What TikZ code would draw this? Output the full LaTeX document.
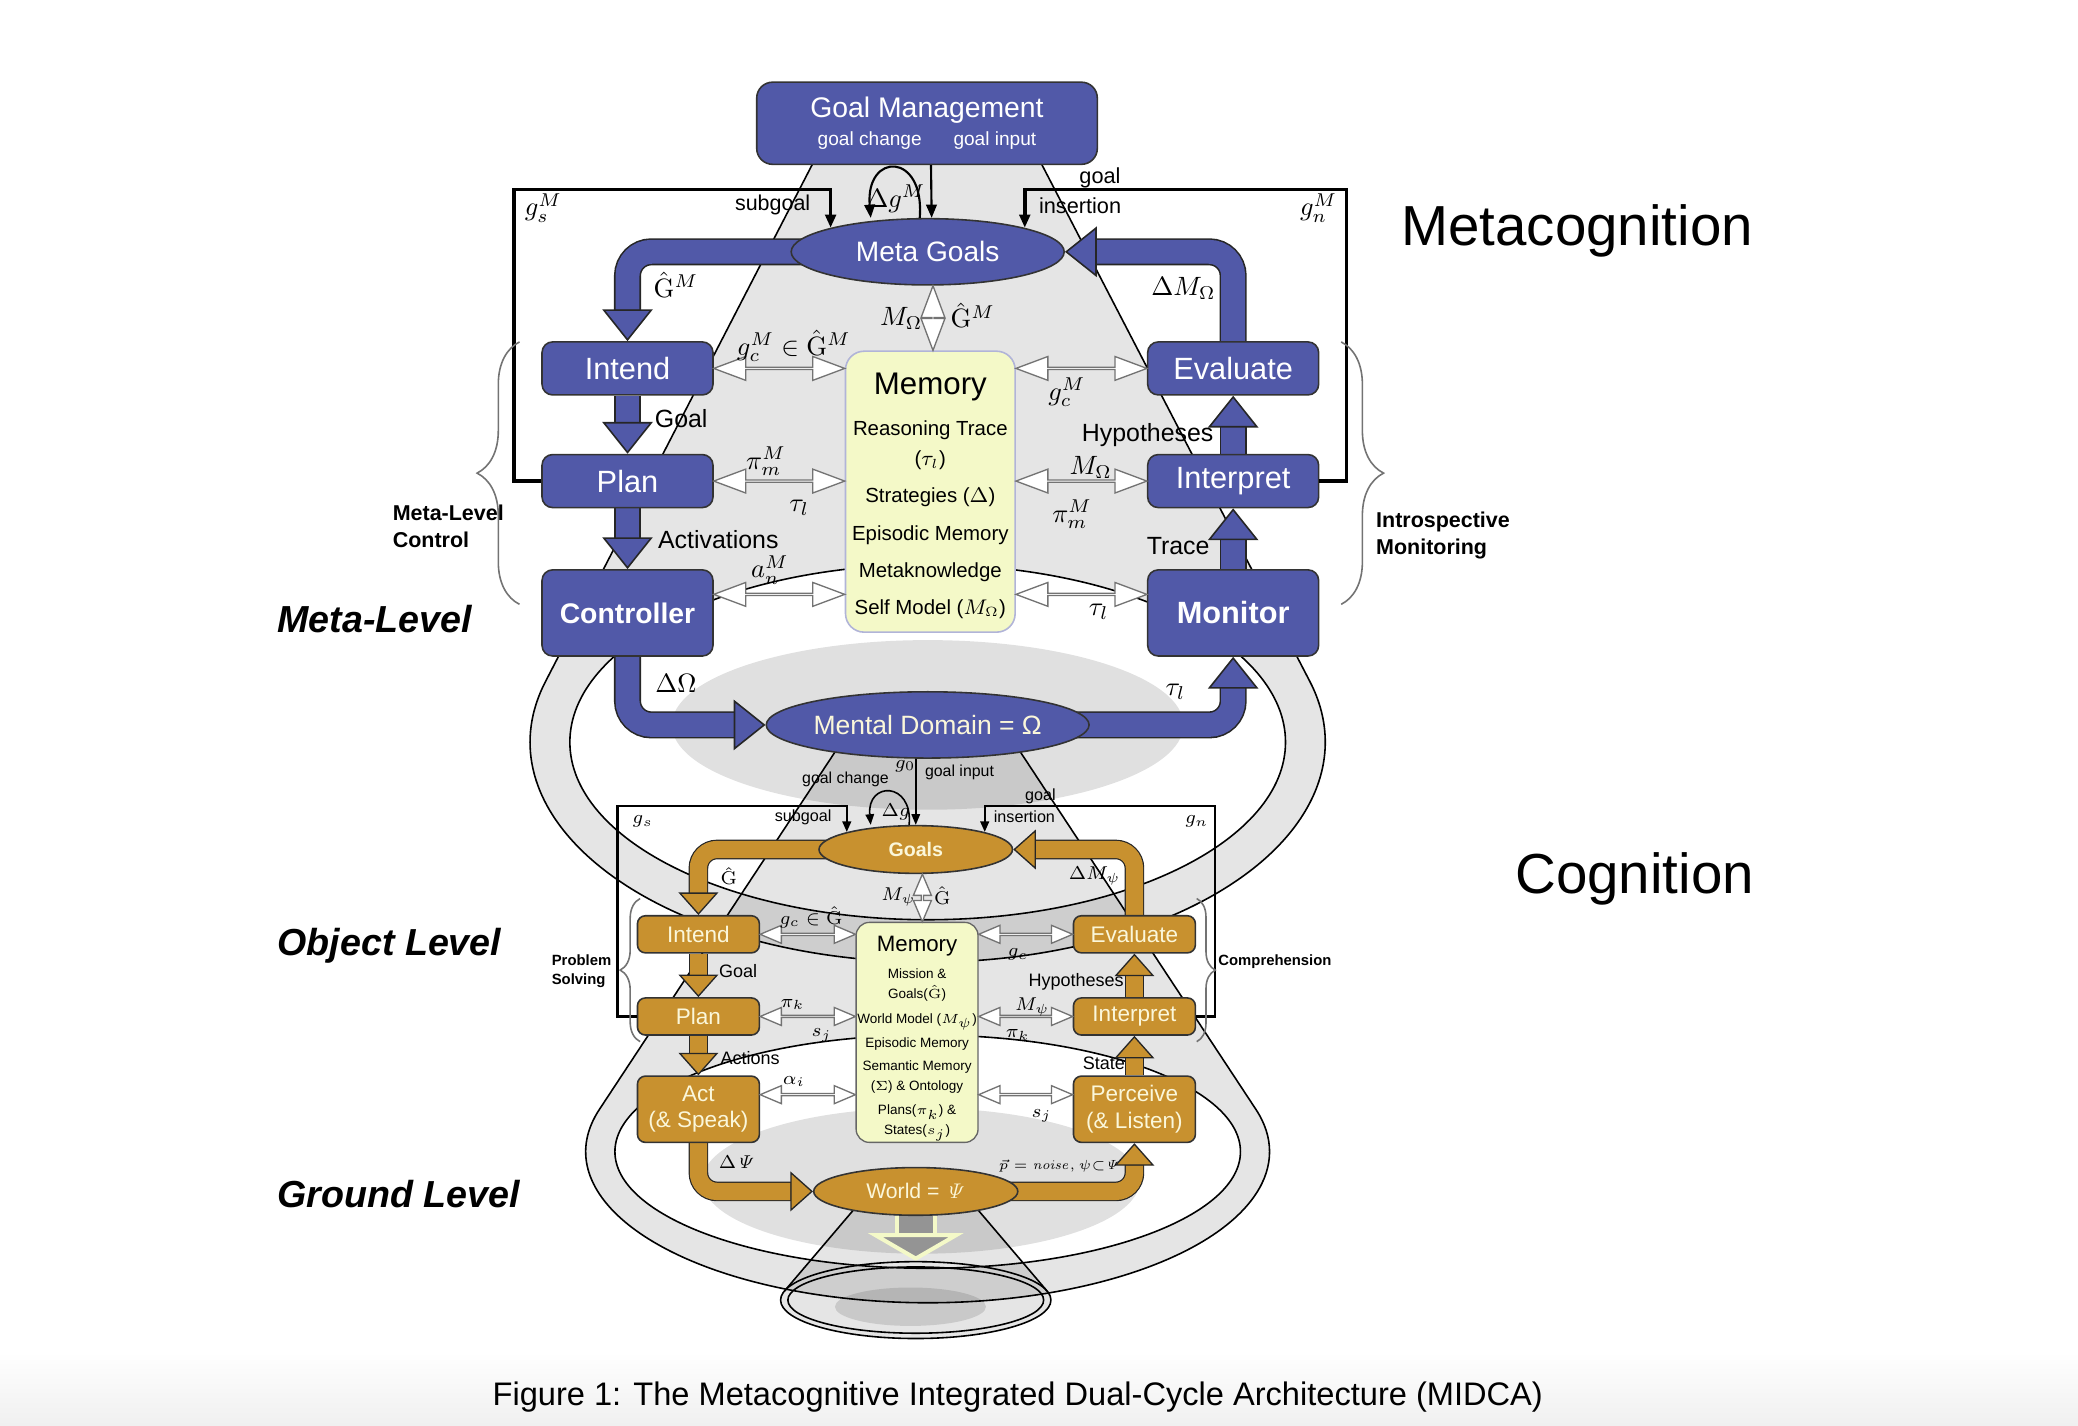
\documentclass[tikz,border=0pt]{standalone}
\usepackage[no-math]{fontspec}
\setmainfont{Liberation Sans}
\usetikzlibrary{arrows.meta,shapes.geometric,shapes.arrows,decorations.pathreplacing,calc}
\pgfdeclarelayer{bg}
\pgfdeclarelayer{flowlayer}
\pgfsetlayers{bg,flowlayer,main}
\definecolor{metablue}{HTML}{5159A8}
\definecolor{objgold}{HTML}{C8912F}
\definecolor{memfill}{HTML}{F4F9C8}
\definecolor{cream}{HTML}{FBF7DA}
\newcommand\fatarrow[2]{\draw[#1out] #2; \draw[#1in] #2;}
\newcommand\openarrow[3][]{\path let \p1=(#2), \p2=(#3), \n1={veclen(\x2-\x1,\y2-\y1)} in (#2) -- node[sloped, dblarrow, minimum height=\n1, #1] {} (#3);}
\begin{document}
\begin{tikzpicture}[x=0.5pt, y=-0.5pt,
  boxbase/.style={rectangle, rounded corners=4pt, draw=black!80, line width=0.6pt, inner sep=0pt, align=center},
  metabox/.style={boxbase, fill=metablue, text=white, minimum width=64.5pt, minimum height=20pt, font=\fontsize{11.6}{13}\selectfont},
  objbox/.style={boxbase, rounded corners=3pt, fill=objgold, text=cream, minimum width=46pt, minimum height=14pt, font=\fontsize{8.5}{10}\selectfont},
  metaell/.style={ellipse, draw=black!80, line width=0.6pt, fill=metablue, text=white, inner sep=0pt},
  objell/.style={ellipse, draw=black!80, line width=0.6pt, fill=objgold, text=cream, inner sep=0pt},
  membox/.style={rectangle, rounded corners=7pt, fill=memfill, inner sep=0pt},
  metaout/.style={line width=10.2pt, draw=black!85, rounded corners=9pt, shorten >=11pt},
  metain/.style={line width=9pt, draw=metablue, rounded corners=9pt, -{Triangle[width=19pt,length=12pt,fill=metablue,color=black!85,line width=0.6pt]}},
  objout/.style={line width=7.4pt, draw=black!85, rounded corners=7pt, shorten >=7.5pt},
  objin/.style={line width=6.5pt, draw=objgold, rounded corners=7pt, -{Triangle[width=15pt,length=8.5pt,fill=objgold,color=black!85,line width=0.5pt]}},
  groundout/.style={line width=16pt, draw=memfill, shorten >=9.5pt},
  groundin/.style={line width=13pt, draw=black!42, -{Triangle[width=36pt,length=10.5pt,fill=black!42,color=memfill,line width=1.5pt]}},
  dblarrow/.style={double arrow, draw=black!55, fill=white, line width=0.5pt, inner sep=0pt, double arrow head indent=0pt},
  metadbl/.style={minimum width=9pt, double arrow head extend=2.4pt, double arrow tip angle=41},
  objdbl/.style={minimum width=6.8pt, double arrow head extend=1.8pt, double arrow tip angle=46},
  flow/.style={draw=black, line width=0.8pt, -{Triangle[length=5pt,width=4pt]}},
  oflow/.style={draw=black, line width=0.6pt, -{Triangle[length=4pt,width=3.2pt]}},
  metaframe/.style={flow, line width=1.4pt},
  objframe/.style={oflow, line width=0.9pt},
  coneline/.style={draw=black, line width=0.6pt},
  conefill/.style={fill=black, fill opacity=0.1},
  platefill/.style={fill=black, fill opacity=0.12},
  brc/.style={draw=black!55, line width=0.6pt, decorate, decoration={brace, amplitude=#1}},
  mlbl/.style={inner sep=0pt, font=\fontsize{9.4}{11}\selectfont},
  mmath/.style={inner sep=0pt, font=\fontsize{10}{11}\selectfont},
  olbl/.style={inner sep=0pt, font=\fontsize{6.8}{8}\selectfont},
  omath/.style={inner sep=0pt, font=\fontsize{7.2}{8}\selectfont},
  side/.style={inner sep=0pt, align=left, anchor=west, font=\bfseries\fontsize{8.1}{10}\selectfont},
  level/.style={inner sep=0pt, anchor=west, font=\bfseries\itshape\fontsize{14.2}{16}\selectfont},
  big/.style={inner sep=0pt, anchor=west, font=\fontsize{21.3}{24}\selectfont}]
\useasboundingbox (0,0) rectangle (1568,1076);
\shade[top color=white, bottom color=black!6] (0,1020) rectangle (1568,1076);

% cones and rings
\begin{pgfonlayer}{bg}
\fill[conefill, even odd rule] (614,122) -- (411.5,514.5) arc[start angle=195.9, end angle=-15.9, x radius=300, y radius=166] -- (785,122) -- cycle (700,560) ellipse[x radius=270, y radius=134];
\draw[coneline] (614,122) -- (411.5,514.5) arc[start angle=195.9, end angle=-15.9, x radius=300, y radius=166] -- (785,122);
\draw[coneline] (700,560) ellipse[x radius=270, y radius=134];
\fill[platefill] (700,547) ellipse[x radius=193, y radius=64];
\fill[conefill, even odd rule] (631,566) -- (452.3,837.1) arc[start angle=196.25, end angle=-16.25, x radius=258, y radius=114] -- (769,566) -- cycle (700,869) ellipse[x radius=236, y radius=88];
\draw[coneline] (631,566) -- (452.3,837.1) arc[start angle=196.25, end angle=-16.25, x radius=258, y radius=114] -- (769,566);
\draw[coneline] (700,869) ellipse[x radius=236, y radius=88];
\fill[platefill] (695,891) ellipse[x radius=165, y radius=55];
\fill[conefill] (644,913) -- (591.9,974.2) arc[start angle=193.62, end angle=-13.62, x radius=102, y radius=29] -- (738,913) -- cycle;
\draw[coneline] (644,913) -- (591.9,974.2);
\draw[coneline] (738,913) -- (790.1,974.2);
\fill[platefill] (687,986) ellipse[x radius=57, y radius=14.5];
\end{pgfonlayer}

% meta level
\node[metabox, rounded corners=6pt, minimum width=128.5pt, minimum height=31pt, font=\fontsize{10.7}{10.5}\selectfont] (gm) at (699.5,93) {Goal Management\\{\fontsize{7.2}{8}\selectfont goal change\hspace{12pt}goal input}};
\node[metaell, minimum width=103pt, minimum height=25pt, font=\fontsize{10.6}{12}\selectfont] (mgoals) at (700,190) {Meta Goals};
\node[metabox] (mIntend) at (473.5,278) {Intend};
\node[metabox] (mPlan) at (473.5,363) {Plan};
\node[metabox, minimum height=32.5pt, font=\bfseries\fontsize{10.7}{12}\selectfont] (mCtrl) at (473.5,462.5) {Controller};
\node[metabox] (mEval) at (930.5,278) {Evaluate};
\node[metabox] (mInterp) at (930.5,363) {Interpret};
\node[metabox, minimum height=32.5pt, font=\bfseries\fontsize{11.6}{12}\selectfont] (mMon) at (930.5,462.5) {Monitor};
\node[membox, draw=metablue!45, line width=0.6pt, minimum width=64pt, minimum height=106pt] (memM) at (702,371) {};
\node[font=\fontsize{11.8}{13}\selectfont] (memMtitle) at (702,292) {Memory};
\node[align=center, font=\fontsize{7.7}{14}\selectfont] (memMtxt) at (702,392) {Reasoning Trace\\[-2.5pt]($\tau_l$)\\Strategies ($\Delta$)\\Episodic Memory\\Metaknowledge\\Self Model ($M_\Omega$)};
\node[metaell, minimum width=105pt, minimum height=25pt, text=cream, font=\fontsize{10}{12}\selectfont] (mdom) at (700,547) {Mental Domain = Ω};

% object level
\node[objell, minimum width=73pt, minimum height=18pt, font=\bfseries\fontsize{7.4}{9}\selectfont] (goals) at (691,641) {Goals};
\node[objbox] (oIntend) at (527,705) {Intend};
\node[objbox] (oPlan) at (527,767) {Plan};
\node[objbox, minimum height=25pt] (oAct) at (527,837) {Act\\(\& Speak)};
\node[objbox] (oEval) at (856,705) {Evaluate};
\node[objbox] (oInterp) at (856,767) {Interpret};
\node[objbox, minimum height=25pt] (oPerc) at (856,837) {Perceive\\(\& Listen)};
\node[membox, rounded corners=5pt, draw=black!60, line width=0.5pt, minimum width=46pt, minimum height=83pt] (memO) at (692,779) {};
\node[font=\fontsize{8.4}{9}\selectfont] (memOtitle) at (692,714) {Memory};
\node[align=center, font=\fontsize{5.1}{7.5}\selectfont] (memOtxt) at (692,796) {Mission \&\\Goals($\hat{\mathrm{G}}$)\\[2pt]World Model ($M_\psi$)\\[1.5pt]Episodic Memory\\[1.5pt]Semantic Memory\\($\Sigma$) \& Ontology\\[1.5pt]Plans($\pi_k$) \&\\States($s_j$)};
\node[objell, minimum width=77pt, minimum height=18pt, font=\fontsize{8}{9}\selectfont] (world) at (691,899) {World = $\mathit{\Psi}$};

% ground level
\node[ellipse, draw, line width=0.6pt, minimum width=102pt, minimum height=29pt, inner sep=0pt] (gnd) at (691,981) {};
\node[ellipse, draw, line width=0.6pt, minimum width=96.5pt, minimum height=25pt, inner sep=0pt] (gndin) at (691,981) {};

% thick cycle arrows
\begin{pgfonlayer}{flowlayer}
\fatarrow{meta}{([xshift=6pt]mgoals.west) -| (mIntend.north)}
\fatarrow{meta}{(mEval.north) |- (mgoals.east)}
\fatarrow{meta}{(mIntend.south) -- (mPlan.north)}
\fatarrow{meta}{(mPlan.south) -- (mCtrl.north)}
\fatarrow{meta}{(mMon.north) -- (mInterp.south)}
\fatarrow{meta}{(mInterp.north) -- (mEval.south)}
\fatarrow{meta}{(mCtrl.south) |- (mdom.west)}
\fatarrow{meta}{([xshift=-6pt]mdom.east) -| (mMon.south)}
\fatarrow{obj}{([xshift=4pt]goals.west) -| (oIntend.north)}
\fatarrow{obj}{(oEval.north) |- (goals.east)}
\fatarrow{obj}{(oIntend.south) -- (oPlan.north)}
\fatarrow{obj}{(oPlan.south) -- (oAct.north)}
\fatarrow{obj}{(oPerc.north) -- (oInterp.south)}
\fatarrow{obj}{(oInterp.north) -- (oEval.south)}
\fatarrow{obj}{(oAct.south) |- (world.west)}
\fatarrow{obj}{([xshift=-4pt]world.east) -| (oPerc.south)}
\fatarrow{ground}{(world.south) -- (gnd.north)}
\end{pgfonlayer}

% memory exchanges
\coordinate (ctrlE) at ([yshift=7pt]mCtrl.east);
\coordinate (monW) at ([yshift=7pt]mMon.west);
\coordinate (actE) at ([yshift=5.5pt]oAct.east);
\coordinate (percW) at ([yshift=5.5pt]oPerc.west);
\coordinate (mgS) at ([xshift=2pt]mgoals.south);
\coordinate (goS) at ([xshift=2.5pt]goals.south);
\openarrow[metadbl]{mIntend.east}{mIntend.east -| memM.west}
\openarrow[metadbl]{mPlan.east}{mPlan.east -| memM.west}
\openarrow[metadbl]{ctrlE}{ctrlE -| memM.west}
\openarrow[metadbl]{memM.east |- mEval.west}{mEval.west}
\openarrow[metadbl]{memM.east |- mInterp.west}{mInterp.west}
\openarrow[metadbl]{memM.east |- monW}{monW}
\openarrow[metadbl]{mgS}{mgS |- memM.north}
\openarrow[objdbl]{oIntend.east}{oIntend.east -| memO.west}
\openarrow[objdbl]{oPlan.east}{oPlan.east -| memO.west}
\openarrow[objdbl]{actE}{actE -| memO.west}
\openarrow[objdbl]{memO.east |- oEval.west}{oEval.west}
\openarrow[objdbl]{memO.east |- oInterp.west}{oInterp.west}
\openarrow[objdbl]{memO.east |- percW}{percW}
\openarrow[objdbl]{goS}{goS |- memO.north}

% goal flows
\coordinate (gsM) at (388,143);
\coordinate (gnM) at (1016,143);
\coordinate (gsO) at (466,608);
\coordinate (gnO) at (917,608);
\draw[flow] ([xshift=1.5pt]gm.south) -- ([xshift=1.5pt]mgoals.north);
\draw[flow] ([xshift=-3pt]mgoals.north) .. controls +(4,-50) and +(-4,-50) .. ([xshift=-21.5pt]mgoals.north);
\draw[metaframe] (mPlan.west) -| (gsM) -| (mgoals.north west);
\draw[metaframe] (mInterp.east) -| (gnM) -| (mgoals.north east);
\draw[oflow] (mdom.south -| goals.north) -- (goals.north);
\draw[oflow] ([xshift=-2.5pt]goals.north) .. controls +(3,-33) and +(-3,-33) .. ([xshift=-17pt]goals.north);
\draw[objframe] (oPlan.west) -| (gsO) -| (goals.north west);
\draw[objframe] (oInterp.east) -| (gnO) -| (goals.north east);

% braces
\draw[brc=16pt] (392,456) -- (392,258);
\draw[brc=16pt] (1012,258) -- (1012,456);
\draw[brc=7.5pt] (483,786) -- (483,678);
\draw[brc=7pt] (903,678) -- (903,786);

% meta labels
\node[mlbl, font=\fontsize{8.1}{9}\selectfont] (lsubM) at (583,155) {subgoal};
\node[mlbl, font=\fontsize{8.2}{9}\selectfont] (lgoalM) at (830,134) {goal};
\node[mlbl, font=\fontsize{8.2}{9}\selectfont] (linsM) at (815,155) {insertion};
\node[mmath] (lgsM) at (410,157) {$g_s^M$};
\node[mmath] (lgnM) at (995,157) {$g_n^M$};
\node[mmath] (ldgM) at (676,150) {$\Delta g^M$};
\node[mmath] (lGM1) at (510,215) {$\hat{\mathrm{G}}^M$};
\node[mmath] (ldMO) at (893,218) {$\Delta M_\Omega$};
\node[mmath] (lMO1) at (680,240) {$M_\Omega$};
\node[mmath] (lGM2) at (734,238) {$\hat{\mathrm{G}}^M$};
\node[mmath] (lgcG) at (599,261) {$g_c^M \in \hat{\mathrm{G}}^M$};
\node[mmath] (lgcM) at (805,296) {$g_c^M$};
\node[mlbl] (lgoal1) at (514,316) {Goal};
\node[mlbl] (lact1) at (542,407) {Activations};
\node[mlbl] (lhyp1) at (866,328) {Hypotheses};
\node[mlbl] (ltrace) at (889,412) {Trace};
\node[mmath] (lpi1) at (578,348) {$\pi_m^M$};
\node[mmath] (ltau1) at (603,383) {$\tau_l$};
\node[mmath] (lan) at (581,430) {$a_n^M$};
\node[mmath] (lMO2) at (823,353) {$M_\Omega$};
\node[mmath] (lpi2) at (809,388) {$\pi_m^M$};
\node[mmath] (ltau2) at (829,462) {$\tau_l$};
\node[mmath] (ldO) at (510,516) {$\Delta\Omega$};
\node[mmath] (ltau3) at (887,522) {$\tau_l$};

% object labels
\node[olbl, font=\fontsize{6}{7}\selectfont] (lgchg) at (638,588) {goal change};
\node[omath] (lg0) at (683,578) {$g_0$};
\node[olbl, font=\fontsize{6}{7}\selectfont] (lgin) at (724,583) {goal input};
\node[olbl, font=\fontsize{6.1}{7}\selectfont] (lsubO) at (606,617) {subgoal};
\node[olbl, font=\fontsize{6.1}{7}\selectfont] (lgoalO) at (785,601) {goal};
\node[olbl, font=\fontsize{6.1}{7}\selectfont] (linsO) at (773,616) {insertion};
\node[omath] (lgsO) at (485,620) {$g_s$};
\node[omath] (lgnO) at (903,620) {$g_n$};
\node[omath] (ldg) at (676,613) {$\Delta g$};
\node[omath] (lG1) at (550,661) {$\hat{\mathrm{G}}$};
\node[omath] (ldMP) at (826,661) {$\Delta M_\psi$};
\node[omath] (lMP1) at (678,677) {$M_\psi$};
\node[omath] (lG2) at (711,676) {$\hat{\mathrm{G}}$};
\node[omath] (lgcO) at (612,692) {$g_c \in \hat{\mathrm{G}}$};
\node[omath] (lgcO2) at (768,720) {$g_c$};
\node[olbl] (lgoal2) at (557,733) {Goal};
\node[olbl] (lact2) at (566,798) {Actions};
\node[olbl] (lhyp2) at (812,741) {Hypotheses};
\node[olbl] (lstate) at (833,802) {State};
\node[omath] (lpik1) at (598,758) {$\pi_k$};
\node[omath] (lsj1) at (620,781) {$s_j$};
\node[omath] (lai) at (599,816) {$\alpha_i$};
\node[omath] (lMP2) at (779,760) {$M_\psi$};
\node[omath] (lpik2) at (768,781) {$\pi_k$};
\node[omath] (lsj2) at (786,842) {$s_j$};
\node[omath] (ldP) at (556,877) {$\Delta\mathit{\Psi}$};
\node[omath, font=\fontsize{5.4}{6}\selectfont] (lnoise) at (799,880) {$\vec{p} = \mathit{noise},\psi{\subset}\mathit{\Psi}$};

% side labels
\node[side] (lmlc) at (296,397) {Meta-Level\\Control};
\node[side] (lim) at (1038,404) {Introspective\\Monitoring};
\node[side, font=\bfseries\fontsize{5.6}{7}\selectfont] (lps) at (416,733) {Problem\\Solving};
\node[side, font=\bfseries\fontsize{5.6}{7}\selectfont] (lcomp) at (919,726) {Comprehension};
\node[level] (lmeta) at (209,467) {Meta-Level};
\node[level] (lobj) at (209,714) {Object Level};
\node[level] (lground) at (209,901) {Ground Level};
\node[big] (lmetacog) at (1057,174) {Metacognition};
\node[big] (lcog) at (1143,663) {Cognition};
\node[inner sep=0pt, font=\fontsize{12.3}{14}\selectfont] (caption) at (768,1054) {Figure 1: The Metacognitive Integrated Dual-Cycle Architecture (MIDCA)};
\end{tikzpicture}
\end{document}
